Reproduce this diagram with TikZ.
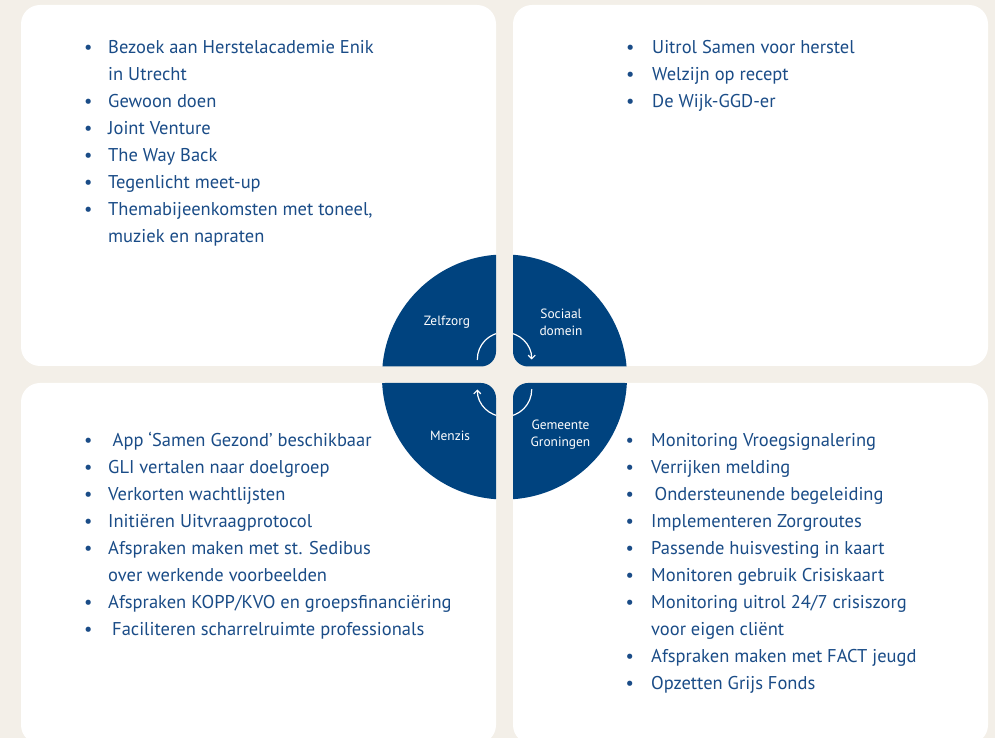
\documentclass[tikz,border=0pt]{standalone}
\usepackage{fontspec}
\setmainfont{PT Sans}
\usetikzlibrary{arrows.meta}
\definecolor{achtergrond}{HTML}{F3EFE8}
\definecolor{donkerblauw}{HTML}{00437F}
\definecolor{tekstblauw}{HTML}{1A4C87}
\newcommand{\stip}{\makebox[0pt]{\textbullet}}

\begin{document}
\begin{tikzpicture}[x=1pt, y=1pt, >={Straight Barb[length=3.5pt,width=7pt]}, line cap=round,
	vlak/.style={fill=white, rounded corners=19pt},
	kwadrant/.style={fill=donkerblauw, rounded corners=15pt},
	lijst/.style={anchor=base west, inner sep=0pt, text=tekstblauw, font=\fontsize{18.5}{27}\selectfont},
	partner/.style={text=white, align=center, font=\fontsize{13.4}{17}\selectfont}]
	%Achtergrond en de vier witte vlakken
	\useasboundingbox (0,0) rectangle (995,738);
	\fill[achtergrond] (0,0) rectangle (995,738);
	\foreach \xa/\ya/\xb/\yb in {21/372/496/733, 513/372/988/733, 21/-6/496/355, 513/-6/988/355}
	\fill[vlak] (\xa,\ya) rectangle (\xb,\yb);
	%Cirkel in vier kwadranten
	\coordinate (M) at (504.5,361);
	\begin{scope}
		\clip (M) circle[radius=122.5];
		\foreach \xa/\ya/\xb/\yb in {496/371.5/370/500, 513/371.5/640/500, 496/355/370/220, 513/355/640/220}
		\fill[kwadrant] (\xa,\ya) rectangle (\xb,\yb);
	\end{scope}
	\node[partner] (zelfzorg) at (447,416) {Zelfzorg};
	\node[partner] (sociaal) at (561,416) {Sociaal\\domein};
	\node[partner] (menzis) at (450,302.5) {Menzis};
	\node[partner] (gemeente) at (560.5,303.5) {Gemeente\\Groningen};
	%Pijlen rond het midden
	\coordinate (boven) at (504.5,378.5);
	\coordinate (onder) at (504.5,348.5);
	\begin{scope}
		\clip (0,0) rectangle (496,738) (513,0) rectangle (995,738);
		\draw[white, line width=1.2pt, ->] (boven) ++(180:27.2) arc[start angle=180, end angle=0, radius=27.2];
		\draw[white, line width=1.2pt, ->] (onder) ++(0:27.2) arc[start angle=0, end angle=-180, radius=27.2];
	\end{scope}
	%Lijsten per vlak
	\node[lijst] (zelfzorglijst) at (88,684) {\begin{tabular}[t]{@{}l@{\hspace{20pt}}l@{}}
		\stip & Bezoek aan Herstelacademie Enik\\
		& in Utrecht\\
		\stip & Gewoon doen\\
		\stip & Joint Venture\\
		\stip & The Way Back\\
		\stip & Tegenlicht meet-up\\
		\stip & Themabijeenkomsten met toneel,\\
		& muziek en napraten
	\end{tabular}};
	\node[lijst] (sociaallijst) at (630,684) {\begin{tabular}[t]{@{}l@{\hspace{22pt}}l@{}}
		\stip & Uitrol Samen voor herstel\\
		\stip & Welzijn op recept\\
		\stip & De Wijk-GGD-er
	\end{tabular}};
	\node[lijst] (menzislijst) at (88,291) {\begin{tabular}[t]{@{}l@{\hspace{20pt}}l@{}}
		\stip & \hspace{4.5pt}App ‘Samen Gezond’ beschikbaar\\
		\stip & GLI vertalen naar doelgroep\\
		\stip & Verkorten wachtlijsten\\
		\stip & Initiëren Uitvraagprotocol\\
		\stip & Afspraken maken met st. Sedibus\\
		& over werkende voorbeelden\\
		\stip & Afspraken KOPP/KVO en groepsfinanciëring\\
		\stip & \hspace{4pt}Faciliteren scharrelruimte professionals
	\end{tabular}};
	\node[lijst] (gemeentelijst) at (629.5,291.3) {\begin{tabular}[t]{@{}l@{\hspace{21.5pt}}l@{}}
		\stip & Monitoring Vroegsignalering\\
		\stip & Verrijken melding\\
		\stip & \hspace{3.5pt}Ondersteunende begeleiding\\
		\stip & Implementeren Zorgroutes\\
		\stip & Passende huisvesting in kaart\\
		\stip & Monitoren gebruik Crisiskaart\\
		\stip & Monitoring uitrol 24/7 crisiszorg\\
		& voor eigen cliënt\\
		\stip & Afspraken maken met FACT jeugd\\
		\stip & Opzetten Grijs Fonds
	\end{tabular}};
\end{tikzpicture}
\end{document}
